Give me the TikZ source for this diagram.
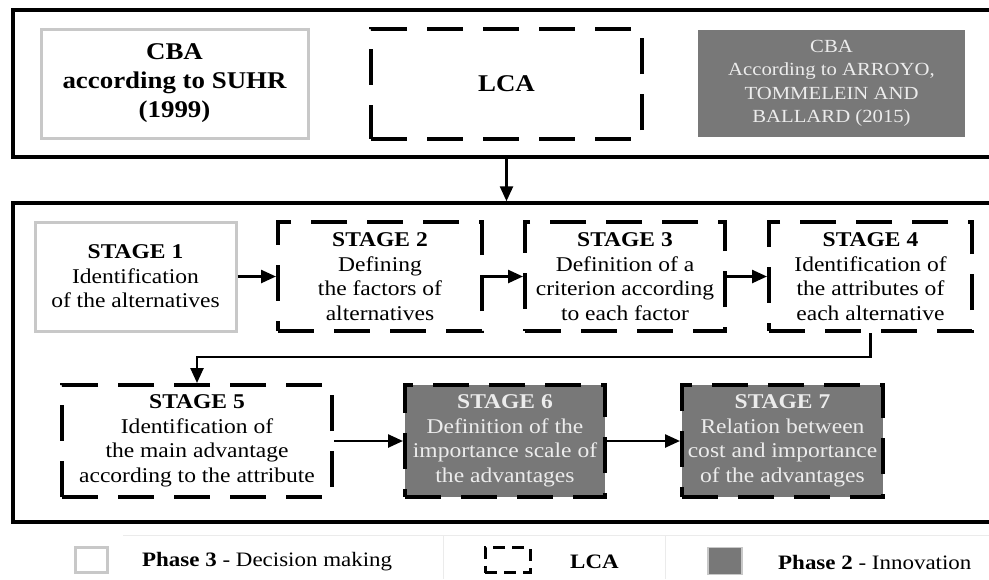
\documentclass[tikz,border=0pt]{standalone}
\usepackage{fontspec}
\setmainfont{Liberation Serif}[FakeStretch=1.12]
\usepackage{xcolor}
\definecolor{cbalight}{RGB}{200,200,200}
\definecolor{cbadark}{RGB}{120,120,120}
\definecolor{cbatext}{RGB}{236,236,236}
\definecolor{cbaline}{RGB}{235,235,235}
\usetikzlibrary{arrows.meta}

\begin{document}
\begin{tikzpicture}[x=1pt, y=-1pt,
    frame/.style={draw=black, line width=3.5pt, minimum width=1010pt, inner sep=0pt},
    lightbox/.style={draw=cbalight, line width=3pt, fill=white, inner sep=0pt, align=center},
    dashbox/.style={draw=black, line width=4pt, dash pattern=on 36pt off 20pt, inner sep=0pt, align=center},
    darkbox/.style={fill=cbadark, text=cbatext, inner sep=0pt, align=center},
    toptext/.style={font=\fontsize{24}{29}\selectfont\bfseries},
    stagetext/.style={font=\fontsize{21}{24.5}\selectfont},
    legtext/.style={font=\fontsize{20.5}{24}\selectfont, anchor=west, inner sep=0pt},
    arr/.style={line width=2.5pt, -{Triangle[length=15pt,width=13pt]}}]
  \useasboundingbox (0,0) rectangle (989,579);

  % Frames
  \node[frame, minimum height=147pt] (topframe) at (518,83.5) {};
  \node[frame, minimum height=319pt] (botframe) at (518,362.5) {};

  % Methods on top
  \node[lightbox, toptext, minimum width=267pt, minimum height=109pt] (suhr) at (174.5,83.5)
       {CBA\\according to SUHR\\(1999)};
  \node[dashbox, toptext, minimum width=271pt, minimum height=110pt] (lcatop) at (506.5,84)
       {LCA};
  \node[darkbox, font=\fontsize{18.5}{23.5}\selectfont, minimum width=267pt, minimum height=107pt] (arroyo) at (831.5,83.5)
       {CBA\\According to ARROYO,\\TOMMELEIN AND\\BALLARD (2015)};

  % Stages, first row
  \node[lightbox, stagetext, minimum width=201pt, minimum height=109pt] (s1) at (135.5,276.5)
       {\textbf{STAGE 1}\\Identification\\of the alternatives};
  \node[dashbox, stagetext, minimum width=204pt, minimum height=109pt] (s2) at (380,276.5)
       {\textbf{STAGE 2}\\Defining\\the factors of\\alternatives};
  \node[dashbox, stagetext, minimum width=200pt, minimum height=109pt] (s3) at (625,276.5)
       {\textbf{STAGE 3}\\Definition of a\\criterion according\\to each factor};
  \node[dashbox, stagetext, minimum width=203pt, minimum height=109pt] (s4) at (870.5,276.5)
       {\textbf{STAGE 4}\\Identification of\\the attributes of\\each alternative};

  % Stages, second row
  \node[dashbox, stagetext, minimum width=270pt, minimum height=112pt] (s5) at (197,441)
       {\textbf{STAGE 5}\\Identification of\\the main advantage\\according to the attribute};
  \node[dashbox, darkbox, stagetext, minimum width=200pt, minimum height=112pt] (s6) at (505,441)
       {\textbf{STAGE 6}\\Definition of the\\importance scale of\\the advantages};
  \node[dashbox, darkbox, stagetext, minimum width=201pt, minimum height=112pt] (s7) at (782.5,441)
       {\textbf{STAGE 7}\\Relation between\\cost and importance\\of the advantages};

  % Arrows
  \draw[arr] (lcatop |- topframe.south) -- (lcatop |- botframe.north);
  \draw[arr] (s1) -- (s2);
  \draw[arr] (s2) -- (s3);
  \draw[arr] (s3) -- (s4);
  \draw[arr] (s4.south) -- ++(0,24) -| (s5.north);
  \draw[arr] (s5) -- (s6);
  \draw[arr] (s6) -- (s7);

  % Legend
  \draw[cbaline, line width=1pt] (123,535) -- (989,535);
  \draw[cbaline, line width=1pt] (443,535) -- (443,579);
  \draw[cbaline, line width=1pt] (665,535) -- (665,579);
  \node[lightbox, minimum width=32pt, minimum height=25pt] (legdm) at (91,560) {};
  \node[legtext] (legdmtext) at (142,562) {\textbf{Phase 3} - Decision making};
  \node[draw=black, line width=3pt, dash pattern=on 12pt off 7pt, minimum width=45pt, minimum height=25pt] (leglca) at (507.5,560) {};
  \node[legtext] (leglcatext) at (570,562) {\textbf{LCA}};
  \node[fill=cbadark, draw=cbalight, line width=1.5pt, minimum width=34pt, minimum height=27pt] (leginn) at (725,561) {};
  \node[legtext] (leginntext) at (778,562) {\textbf{Phase 2} - Innovation};
\end{tikzpicture}
\end{document}
